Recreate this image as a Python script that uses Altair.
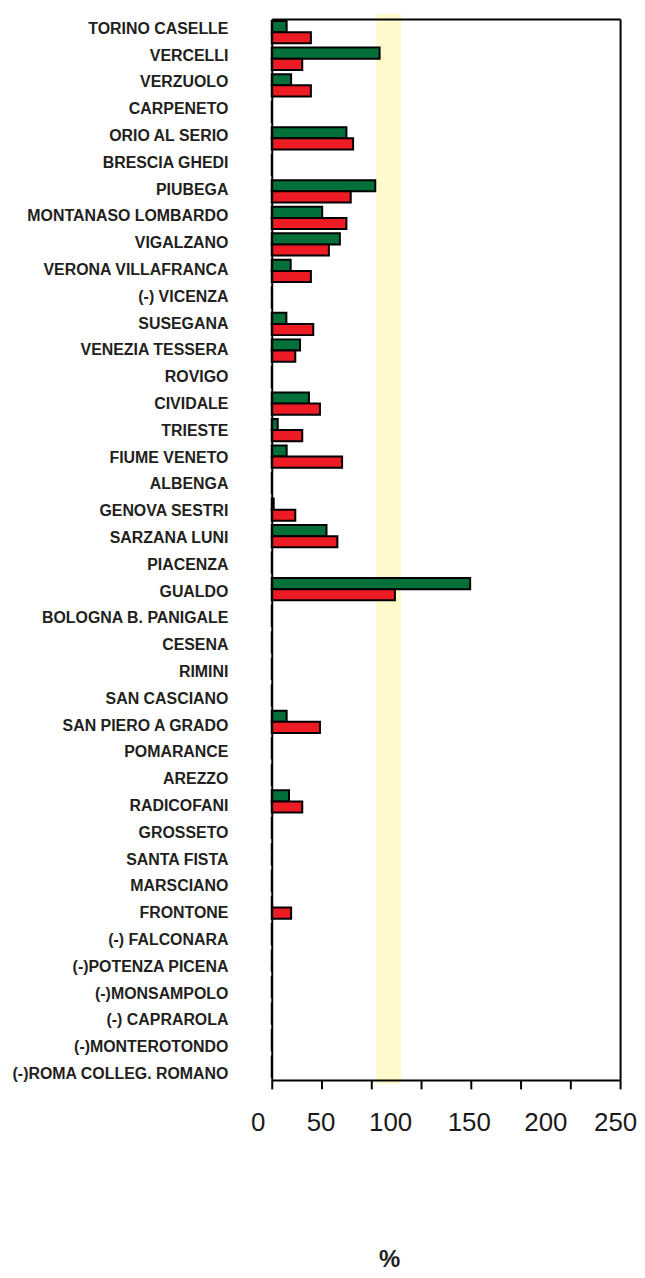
import altair as alt
import pandas as pd

stations = [
    "TORINO CASELLE", "VERCELLI", "VERZUOLO", "CARPENETO", "ORIO AL SERIO",
    "BRESCIA GHEDI", "PIUBEGA", "MONTANASO LOMBARDO", "VIGALZANO", "VERONA VILLAFRANCA",
    "(-) VICENZA", "SUSEGANA", "VENEZIA TESSERA", "ROVIGO", "CIVIDALE",
    "TRIESTE", "FIUME VENETO", "ALBENGA", "GENOVA SESTRI", "SARZANA LUNI",
    "PIACENZA", "GUALDO", "BOLOGNA B. PANIGALE", "CESENA", "RIMINI",
    "SAN CASCIANO", "SAN PIERO A GRADO", "POMARANCE", "AREZZO", "RADICOFANI",
    "GROSSETO", "SANTA FISTA", "MARSCIANO", "FRONTONE", "(-) FALCONARA",
    "(-)POTENZA PICENA", "(-)MONSAMPOLO", "(-) CAPRAROLA", "(-)MONTEROTONDO",
    "(-)ROMA COLLEG. ROMANO",
]
green = [10.7, 77.4, 13.9, 0, 53.6, 0, 74.3, 36.2, 48.9, 13.6,
         0, 10.5, 20.3, 0, 26.7, 4.3, 10.7, 0, 1.4, 39.3,
         0, 142.4, 0, 0, 0, 0, 10.7, 0, 0, 12.4,
         0, 0, 0, 0, 0, 0, 0, 0, 0, 0]
red = [28.1, 21.9, 28.1, 0, 58.4, 0, 56.7, 53.6, 41.0, 28.1,
       0, 29.8, 16.9, 0, 34.6, 21.9, 50.5, 0, 16.9, 47.1,
       0, 88.4, 0, 0, 0, 0, 34.6, 0, 0, 21.9,
       0, 0, 0, 13.9, 0, 0, 0, 0, 0, 0]
band_lo = [75.0]
band_hi = [92.9]
x_labels = [0, 50, 100, 150, 200, 250]
series = ["A", "B"]
colors = ["#03703a", "#ed1c24"]

rows = []
for s, g, r in zip(stations, green, red):
    rows.append({"station": s, "series": "A", "value": g})
    rows.append({"station": s, "series": "B", "value": r})
df = pd.DataFrame(rows)
band_df = pd.DataFrame({"lo": band_lo, "hi": band_hi})

W, H = 350, 1066
tick_vals = [250 / 7 * i for i in range(8)]
xscale = alt.Scale(domain=[0, 250], nice=False)
yscale = alt.Scale(paddingInner=0.16, paddingOuter=0.08)

band = alt.Chart(band_df).mark_rect(color="#fff9cc", clip=False).encode(
    x=alt.X("lo:Q", scale=xscale, axis=alt.Axis(
        orient="top", labels=False, ticks=False, grid=False, title=None,
        domainColor="black", domainWidth=2, zindex=1)),
    x2="hi:Q",
    y=alt.value(-5),
    y2=alt.value(H + 4),
)

bars = alt.Chart(df).mark_bar(stroke="black", strokeWidth=2).encode(
    x=alt.X("value:Q", scale=xscale, axis=alt.Axis(
        orient="bottom", values=x_labels, ticks=False, tickSize=0, grid=False,
        domainColor="black", domainWidth=2, zindex=1,
        labelFont="Liberation Sans", labelFontSize=26, labelColor="#1a1a1a",
        labelPadding=30, labelFlush=False, labelOverlap=False,
        labelOffset=alt.ExprRef(expr="datum.value == 0 ? -14 : (datum.value <= 100 ? -21 : (datum.value == 150 ? -12 : -5))"),
        title="%", titleFont="Liberation Sans", titleFontSize=24, titleFontWeight="bold",
        titleColor="#231f20", titleX=118, titleY=180, titleAlign="center",
        titleBaseline="middle")),
    y=alt.Y("station:N", sort=stations, scale=yscale, axis=alt.Axis(
        orient="left", ticks=False, tickSize=0, grid=False, title=None,
        domainColor="black", domainWidth=2, zindex=1,
        labelFont="Liberation Sans", labelFontSize=16, labelFontWeight="bold",
        labelColor="#231f20", labelPadding=44, labelLimit=400,
        labelOffset=alt.ExprRef(expr="-3.5 + 11 * datum.index"))),
    yOffset=alt.YOffset("series:N", sort=series),
    color=alt.Color("series:N", scale=alt.Scale(domain=series, range=colors), legend=None),
)

frame = alt.Chart(df).mark_bar(opacity=0).encode(
    x=alt.X("value:Q", scale=xscale, axis=alt.Axis(
        orient="bottom", values=tick_vals, labels=False, ticks=True, tickSize=9,
        tickWidth=2, tickColor="black", domain=False, grid=False, title=None, zindex=1)),
    y=alt.Y("station:N", sort=stations, scale=yscale, axis=alt.Axis(
        orient="right", labels=False, ticks=False, grid=False, title=None,
        domainColor="black", domainWidth=2, zindex=1)),
)

chart = alt.layer(band, bars, frame).resolve_axis(
    x="independent", y="independent"
).properties(
    width=W, height=H,
    padding={"left": 3, "top": 3, "right": 0, "bottom": 0},
).configure_view(stroke=None)

chart.save("out.html", embed_options={"renderer": "svg", "actions": False})
